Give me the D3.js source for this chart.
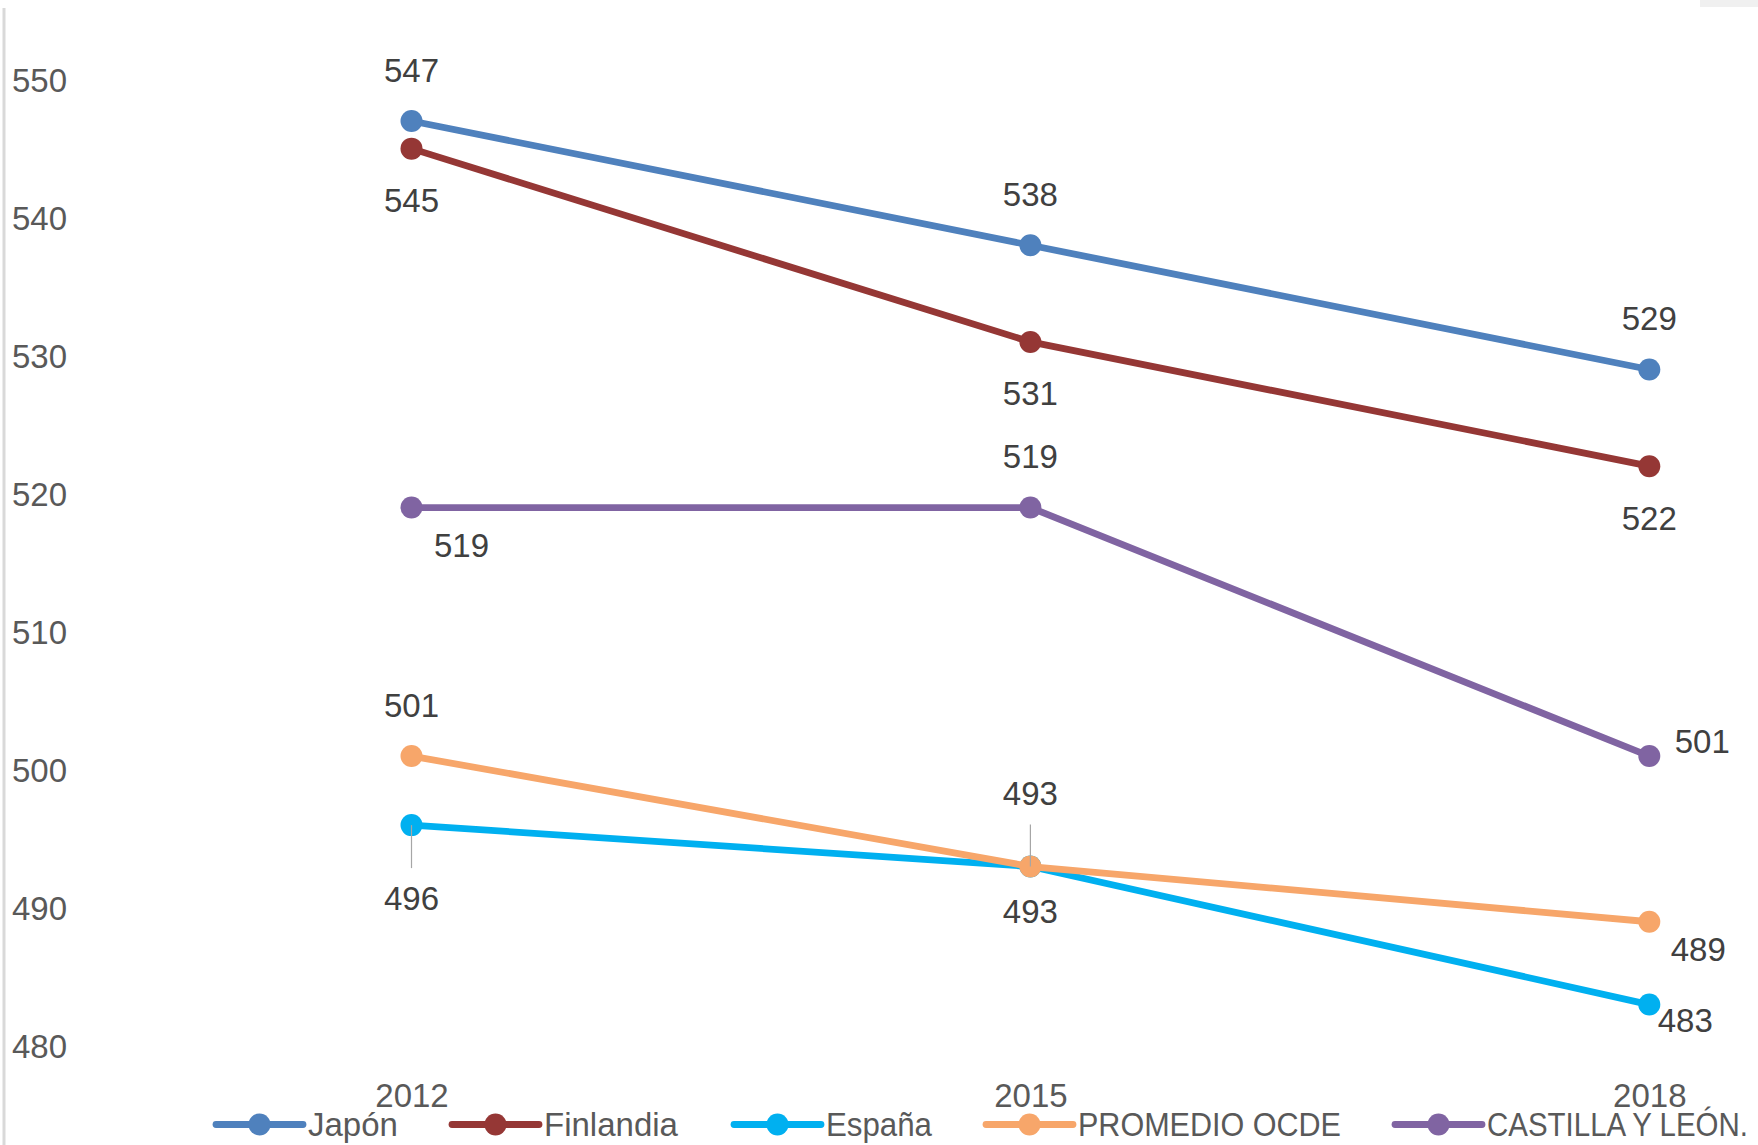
<!DOCTYPE html>
<html><head><meta charset="utf-8">
<script src="https://cdn.jsdelivr.net/npm/d3@7"></script>
<style>
body{margin:0;background:#fff;}
svg{display:block;}
text{font-family:"Liberation Sans",Arial,sans-serif;}
</style>
</head><body>
<svg id="chart" width="1758" height="1145"></svg>
<script>
// ---- data ----
const years = ["2012", "2015", "2018"];
const seriesNames = ["Japón", "Finlandia", "España", "PROMEDIO OCDE", "CASTILLA Y LEÓN."];
const japon = [547, 538, 529];
const finlandia = [545, 531, 522];
const espana = [496, 493, 483];
const ocde = [501, 493, 489];
const castilla = [519, 519, 501];
const yTicks = [480, 490, 500, 510, 520, 530, 540, 550];

// ---- styling / layout (not data) ----
const seriesColors = ["#4F81BD", "#953735", "#00B0F0", "#F7A66A", "#8064A2"];
const labelPlacement = [
  ["above", "above", "above"],
  ["below", "below", "below"],
  ["belowLeader", "belowNear", "rightLow"],
  ["above", "aboveLeader", "rightBelow"],
  ["rightDown", "above", "rightUp"]
];
const placementOffsets = {
  above: [0, -51], below: [0, 52], belowNear: [0, 45],
  aboveLeader: [0, -73], belowLeader: [0, 73],
  rightDown: [50, 38], rightUp: [53, -15], rightBelow: [49, 28], rightLow: [36, 16]
};
const legendTextWidths = [90, 136, 106, 263, 261];

const seriesValues = [japon, finlandia, espana, ocde, castilla];
const series = seriesNames.map((name, i) => ({
  name, color: seriesColors[i],
  values: years.map((yr, j) => ({ year: yr, value: seriesValues[i][j], place: labelPlacement[i][j] }))
}));

const svg = d3.select("#chart");

const x = d3.scalePoint().domain(years).range([411.5, 1649.3]);
const y = d3.scaleLinear().domain([480, 550]).range([1046, 79.6]);

// top-right faint shadow
svg.append("rect").attr("x", 1700).attr("y", 0).attr("width", 58).attr("height", 7).attr("fill", "#F0F0F0");

// y axis
const yAxisG = svg.append("g").attr("transform", "translate(4,0)")
  .call(d3.axisRight(y).tickValues(yTicks).tickSize(0).tickPadding(8).tickFormat(d3.format("d")));
yAxisG.select(".domain").attr("d", "M0,8V1145").attr("stroke", "#D9D9D9").attr("stroke-width", 3);
yAxisG.selectAll(".tick text").attr("font-size", 33).attr("fill", "#595959")
  .attr("font-family", "Liberation Sans, Arial, sans-serif").attr("dy", "0.35em");

// x axis
const xAxisG = svg.append("g").attr("transform", "translate(0,1095)")
  .call(d3.axisBottom(x).tickSize(0).tickPadding(0));
xAxisG.select(".domain").remove();
xAxisG.selectAll(".tick text").attr("font-size", 33).attr("fill", "#595959")
  .attr("font-family", "Liberation Sans, Arial, sans-serif").attr("dy", "0.35em").attr("y", 0);

// lines
const line = d3.line().x(d => x(d.year)).y(d => y(d.value));
const sg = svg.append("g").selectAll("g.series").data(series).join("g").attr("class", "series");
sg.append("path").attr("d", d => line(d.values)).attr("fill", "none")
  .attr("stroke", d => d.color).attr("stroke-width", 6.8).attr("stroke-linejoin", "round").attr("stroke-linecap", "round");
sg.selectAll("circle").data(d => d.values.map(v => ({ ...v, color: d.color }))).join("circle")
  .attr("cx", d => x(d.year)).attr("cy", d => y(d.value)).attr("r", 11).attr("fill", d => d.color);

// leader lines & labels
const labelsG = svg.append("g");
series.forEach(s => {
  s.values.forEach(v => {
    const [dx, dy] = placementOffsets[v.place];
    const px = x(v.year), py = y(v.value);
    if (v.place === "aboveLeader") {
      labelsG.append("line").attr("x1", px).attr("x2", px).attr("y1", py - 42).attr("y2", py)
        .attr("stroke", "#A6A6A6").attr("stroke-width", 1.2);
    }
    if (v.place === "belowLeader") {
      labelsG.append("line").attr("x1", px).attr("x2", px).attr("y1", py).attr("y2", py + 43)
        .attr("stroke", "#A6A6A6").attr("stroke-width", 1.2);
    }
    labelsG.append("text").attr("x", px + dx).attr("y", py + dy).attr("dy", "0.35em")
      .attr("text-anchor", "middle").attr("font-size", 33).attr("fill", "#404040").text(v.value);
  });
});

// legend
const legendY = 1124.5;
let lx = 216;
const legG = svg.append("g");
series.forEach((s, i) => {
  const g = legG.append("g");
  g.append("line").attr("x1", lx).attr("x2", lx + 87).attr("y1", legendY).attr("y2", legendY)
    .attr("stroke", s.color).attr("stroke-width", 6.8).attr("stroke-linecap", "round");
  g.append("circle").attr("cx", lx + 43.5).attr("cy", legendY).attr("r", 11).attr("fill", s.color);
  const t = g.append("text").attr("x", lx + 92).attr("y", legendY).attr("dy", "0.35em")
    .attr("font-size", 33).attr("fill", "#595959").text(s.name);
  const natural = t.node().getComputedTextLength();
  if (Math.abs(natural - legendTextWidths[i]) > 3) {
    t.attr("textLength", legendTextWidths[i]).attr("lengthAdjust", "spacingAndGlyphs");
  }
  lx = lx + 92 + legendTextWidths[i] + 54;
});
</script>
</body></html>
